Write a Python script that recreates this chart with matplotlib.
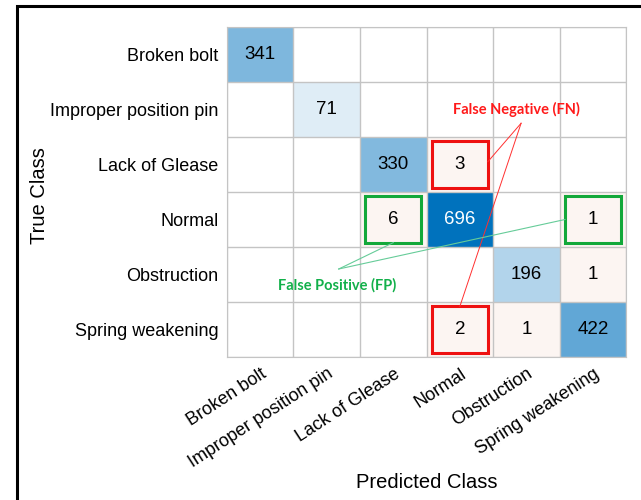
import numpy as np
import matplotlib.pyplot as plt
from matplotlib.colors import LinearSegmentedColormap, ListedColormap, Normalize
from matplotlib.patches import Rectangle

plt.rcParams['font.family'] = ['Liberation Sans', 'DejaVu Sans']

classes = ['Broken bolt', 'Improper position pin', 'Lack of Glease',
           'Normal', 'Obstruction', 'Spring weakening']

# confusion matrix (rows = true class, cols = predicted class)
cm = np.array([
    [341, 0, 0, 0, 0, 0],
    [0, 71, 0, 0, 0, 0],
    [0, 0, 330, 3, 0, 0],
    [0, 0, 6, 696, 0, 1],
    [0, 0, 0, 0, 196, 1],
    [0, 0, 0, 2, 1, 422],
])

fn_cells = [(2, 3), (5, 3)]   # (row, col)
fp_cells = [(3, 2), (3, 5)]

fig = plt.figure(figsize=(6.41, 5), dpi=100)
ax = fig.add_axes([0.354, 0.286, 0.623, 0.66])

n = len(classes)
diag = np.ma.masked_where(~np.eye(n, dtype=bool), cm)
off = np.ma.masked_where(np.eye(n, dtype=bool) | (cm == 0), cm)

blues = LinearSegmentedColormap.from_list('b', ['#ffffff', '#0072bd'])
ax.imshow(off, cmap=ListedColormap(['#fcf5f2']), aspect='auto')
ax.imshow(diag, cmap=blues, norm=Normalize(vmin=-20, vmax=cm.max()), aspect='auto')

for i in range(n):
    for j in range(n):
        if cm[i, j] > 0:
            col = 'white' if cm[i, j] > 600 else 'black'
            ax.text(j, i, str(cm[i, j]), ha='center', va='center',
                    fontsize=13.5, color=col)

# grid
for k in range(n + 1):
    ax.axhline(k - 0.5, color='#c4c4c4', lw=1)
    ax.axvline(k - 0.5, color='#c4c4c4', lw=1)
for s in ax.spines.values():
    s.set_color('#c4c4c4')

ax.set_xticks(range(n))
ax.set_yticks(range(n))
ax.set_xticklabels(classes, rotation=33, ha='right', rotation_mode='anchor', fontsize=13)
ax.set_yticklabels(classes, fontsize=13)
ax.tick_params(length=0, pad=6)
ax.set_xlim(-0.5, n - 0.5)
ax.set_ylim(n - 0.5, -0.5)
ax.set_xlabel('Predicted Class', fontsize=14.5, va='center')
ax.set_ylabel('True Class', fontsize=14.5, va='center')
ax.xaxis.set_label_coords(0.5, -0.38)
ax.yaxis.set_label_coords(-0.47, 0.49)

# highlight boxes
for (r, c) in fn_cells:
    ax.add_patch(Rectangle((c - 0.42, r - 0.42), 0.84, 0.84, fill=False,
                           edgecolor='#ee1111', lw=2.2, zorder=5))
for (r, c) in fp_cells:
    ax.add_patch(Rectangle((c - 0.42, r - 0.42), 0.84, 0.84, fill=False,
                           edgecolor='#12a83a', lw=2.2, zorder=5))

# annotations
ax.text(3.85, 1.0, 'False Negative (FN)', color='#ff1a1a', fontsize=10.5,
        family='Lato', fontweight='bold', ha='center', va='center', zorder=6)
fn_src = (3.92, 1.25)
ax.plot([fn_src[0], 3.42], [fn_src[1], 1.95], color='#ff3030', lw=0.7, zorder=6)
ax.plot([fn_src[0], 3.0], [fn_src[1], 4.58], color='#ff3030', lw=0.7, zorder=6)

ax.text(1.15, 4.2, 'False Positive (FP)', color='#12b04a', fontsize=10.5,
        family='Lato', fontweight='bold', ha='center', va='center', zorder=6)
fp_src = (1.18, 3.9)
ax.plot([fp_src[0], 2.0], [fp_src[1], 3.42], color='#66cc99', lw=0.8, zorder=6)
ax.plot([fp_src[0], 4.58], [fp_src[1], 3.0], color='#66cc99', lw=0.8, zorder=6)

# outer frame
fig.add_artist(Rectangle((0.026, -0.1), 1.2, 0.1 + 0.988, fill=False,
                         edgecolor='black', lw=2.2, transform=fig.transFigure))

fig.savefig('out.png', dpi=100)
